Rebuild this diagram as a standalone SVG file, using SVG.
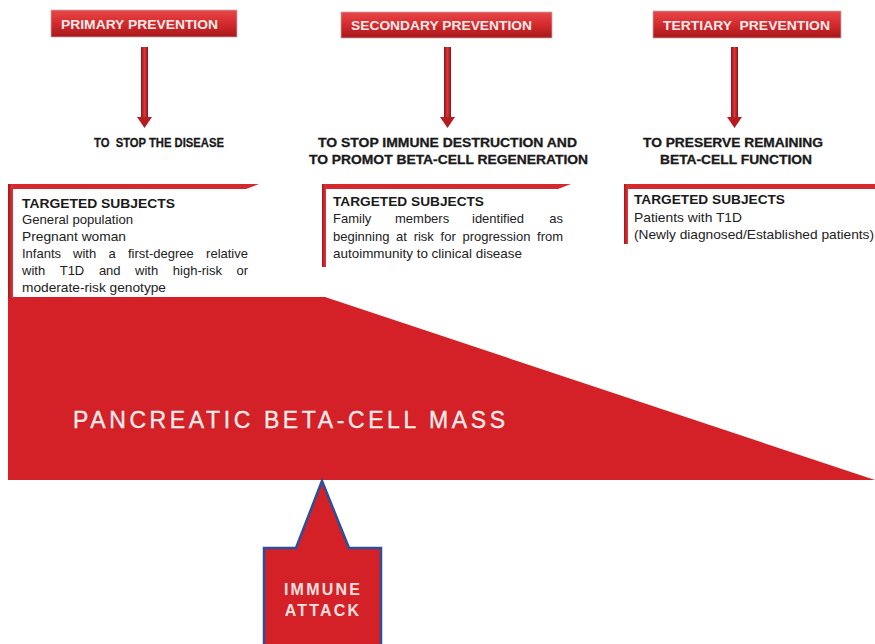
<svg xmlns="http://www.w3.org/2000/svg" width="875" height="644" viewBox="0 0 875 644">
<defs>
<linearGradient id="hdr" x1="0" y1="0" x2="0" y2="1">
<stop offset="0" stop-color="#e8474a"/>
<stop offset="0.5" stop-color="#d42a2d"/>
<stop offset="1" stop-color="#a8171b"/>
</linearGradient>
<linearGradient id="shaft" x1="0" y1="0" x2="1" y2="0">
<stop offset="0" stop-color="#8e1216"/>
<stop offset="0.5" stop-color="#e0353a"/>
<stop offset="1" stop-color="#8e1216"/>
</linearGradient>
<linearGradient id="bar" x1="0" y1="0" x2="1" y2="0">
<stop offset="0" stop-color="#a5161b"/>
<stop offset="1" stop-color="#e0383c"/>
</linearGradient>
</defs>
<style>
.hdr{fill:url(#hdr);stroke:#b8b0b0;stroke-width:0.8}
.hdrt{font-family:"Liberation Sans",Arial,sans-serif;font-weight:bold;font-size:13px;fill:#fbecec;text-anchor:middle}
.goal{font-family:"Liberation Sans",Arial,sans-serif;font-weight:bold;font-size:12.5px;fill:#1a1a1a;stroke:#1a1a1a;stroke-width:0.3;text-anchor:middle}
.tsh{font-family:"Liberation Sans",Arial,sans-serif;font-weight:bold;font-size:13px;fill:#1a1a1a}
.tb{font-family:"Liberation Sans",Arial,sans-serif;font-size:13px;fill:#222}
.end{text-anchor:end}
.bar{fill:url(#bar)}
.top{fill:#d42a2d}
.shaft{fill:url(#shaft)}
.head{fill:#b51c20}
.mass{fill:#d42027}
.big{font-family:"Liberation Sans",Arial,sans-serif;font-size:23px;fill:#f5ecec;stroke:#f5ecec;stroke-width:0.35}
.ia{font-family:"Liberation Sans",Arial,sans-serif;font-weight:bold;font-size:16px;fill:#f3e0e0;text-anchor:middle;letter-spacing:2.2px}
</style>
<rect width="875" height="644" fill="#ffffff"/>

<g id="primary">
<rect class="hdr" x="51" y="10" width="186" height="27"/>
<text class="hdrt" x="139.5" y="29" textLength="157" lengthAdjust="spacingAndGlyphs">PRIMARY PREVENTION</text>
</g>
<g id="secondary">
<rect class="hdr" x="341" y="12" width="211" height="26"/>
<text class="hdrt" x="441.5" y="30" textLength="181" lengthAdjust="spacingAndGlyphs">SECONDARY PREVENTION</text>
</g>
<g id="tertiary">
<rect class="hdr" x="653" y="11" width="188" height="27"/>
<text class="hdrt" x="746.5" y="30" textLength="167" lengthAdjust="spacingAndGlyphs" xml:space="preserve">TERTIARY  PREVENTION</text>
</g>

<g id="goal1">
<text class="goal" x="159" y="147" textLength="130" lengthAdjust="spacingAndGlyphs" xml:space="preserve">TO  STOP THE DISEASE</text>
</g>
<g id="goal2">
<text class="goal" x="447.5" y="147" textLength="259" lengthAdjust="spacingAndGlyphs">TO STOP IMMUNE DESTRUCTION AND</text>
<text class="goal" x="448.5" y="164" textLength="279" lengthAdjust="spacingAndGlyphs">TO PROMOT BETA-CELL REGENERATION</text>
</g>
<g id="goal3">
<text class="goal" x="733" y="147" textLength="180" lengthAdjust="spacingAndGlyphs">TO PRESERVE REMAINING</text>
<text class="goal" x="736" y="164" textLength="152" lengthAdjust="spacingAndGlyphs">BETA-CELL FUNCTION</text>
</g>

<g id="connectors">
<rect class="shaft" x="141" y="47" width="7" height="71"/>
<polygon class="head" points="137,117 152,117 144.5,128"/>
<rect class="shaft" x="444" y="47" width="7" height="71"/>
<polygon class="head" points="440,117 455,117 447.5,128"/>
<rect class="shaft" x="731" y="47" width="7" height="71"/>
<polygon class="head" points="727,117 742,117 734.5,128"/>
</g>

<g id="mass">
<polygon class="mass" points="8,297 325,297 875,480 8,480"/>
<text class="big" x="73" y="428" textLength="432" lengthAdjust="spacing">PANCREATIC BETA-CELL MASS</text>
</g>

<g id="targets1">
<polygon class="top" points="8,184 259,184 246,189 8,189"/>
<rect class="bar" x="8" y="184" width="5" height="114"/>
<text class="tsh" x="22" y="208" textLength="153" lengthAdjust="spacingAndGlyphs">TARGETED SUBJECTS</text>
<text class="tb" x="22" y="224" textLength="111" lengthAdjust="spacingAndGlyphs">General population</text>
<text class="tb" x="22" y="241" textLength="104" lengthAdjust="spacingAndGlyphs">Pregnant woman</text>
<text class="tb" y="258"><tspan x="22">Infants</tspan><tspan x="73">with</tspan><tspan x="108.5">a</tspan><tspan x="128">first-degree</tspan></text>
<text class="tb end" x="248" y="258">relative</text>
<text class="tb" y="275"><tspan x="22">with</tspan><tspan x="59.7">T1D</tspan><tspan x="98.9">and</tspan><tspan x="135.1">with</tspan><tspan x="172.8">high-risk</tspan></text>
<text class="tb end" x="248" y="275">or</text>
<text class="tb" x="22" y="292" textLength="144" lengthAdjust="spacingAndGlyphs">moderate-risk genotype</text>
</g>

<g id="targets2">
<polygon class="top" points="322,184 571,184 558,189 322,189"/>
<rect class="bar" x="322" y="184" width="4" height="83"/>
<text class="tsh" x="333" y="206" textLength="151" lengthAdjust="spacingAndGlyphs">TARGETED SUBJECTS</text>
<text class="tb" y="223"><tspan x="333">Family</tspan><tspan x="395">members</tspan><tspan x="472">identified</tspan></text>
<text class="tb end" x="563" y="223">as</text>
<text class="tb" x="333" y="241" word-spacing="3.1">beginning at risk for progression from</text>
<text class="tb" x="333" y="258" textLength="189" lengthAdjust="spacingAndGlyphs">autoimmunity to clinical disease</text>
</g>

<g id="targets3">
<polygon class="top" points="624,184 875,184 875,189 624,189"/>
<rect class="bar" x="624" y="184" width="4" height="60"/>
<text class="tsh" x="634" y="204" textLength="151" lengthAdjust="spacingAndGlyphs">TARGETED SUBJECTS</text>
<text class="tb" x="634" y="222" textLength="108" lengthAdjust="spacingAndGlyphs">Patients with T1D</text>
<text class="tb" x="634" y="239" textLength="240" lengthAdjust="spacingAndGlyphs">(Newly diagnosed/Established patients)</text>
</g>

<g id="immune-attack">
<polygon points="264,650 264,548 296,548 322,481 349,548 381,548 381,650" fill="#d42027" stroke="#2b4f9a" stroke-width="2.5" stroke-linejoin="miter"/>
<text class="ia" x="323" y="595">IMMUNE</text>
<text class="ia" x="323" y="616">ATTACK</text>
</g>
</svg>
